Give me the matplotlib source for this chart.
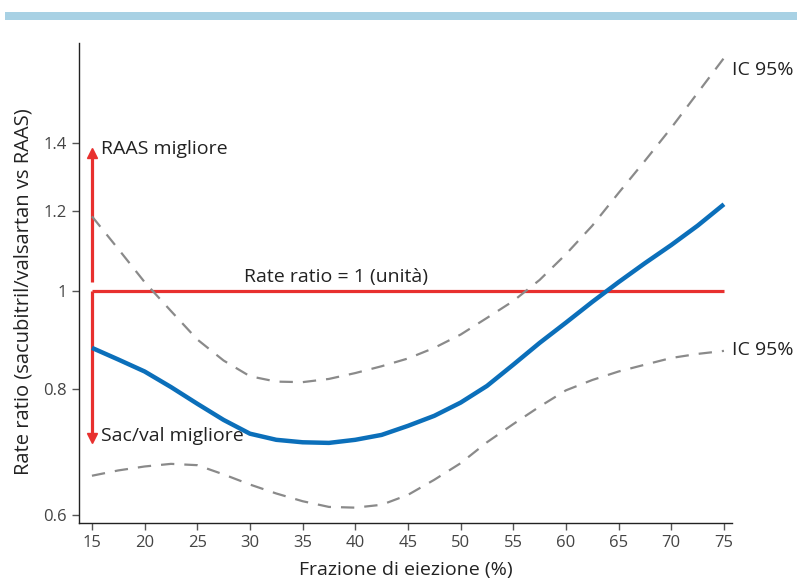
import matplotlib
matplotlib.use("Agg")
import matplotlib.pyplot as plt
from matplotlib.patches import Rectangle
import numpy as np

plt.rcParams['font.family'] = ['Open Sans', 'DejaVu Sans']

# frazione di eiezione (%)
ef = [15, 17.5, 20, 22.5, 25, 27.5, 30, 32.5, 35, 37.5, 40, 42.5, 45,
      47.5, 50, 52.5, 55, 57.5, 60, 62.5, 65, 67.5, 70, 72.5, 75]
# rate ratio stimato
rr = [0.878, 0.855, 0.832, 0.803, 0.773, 0.745, 0.722, 0.712, 0.708, 0.707,
      0.712, 0.720, 0.735, 0.752, 0.775, 0.805, 0.845, 0.888, 0.930, 0.975,
      1.02, 1.065, 1.11, 1.16, 1.218]
# IC 95% superiore / inferiore
ic_hi = [1.185, 1.10, 1.02, 0.955, 0.895, 0.853, 0.823, 0.813, 0.812, 0.818,
         0.829, 0.842, 0.857, 0.878, 0.905, 0.94, 0.977, 1.025, 1.087, 1.16,
         1.25, 1.345, 1.45, 1.57, 1.70]
ic_lo = [0.656, 0.664, 0.670, 0.674, 0.672, 0.658, 0.643, 0.630, 0.619, 0.611,
         0.610, 0.614, 0.628, 0.650, 0.675, 0.708, 0.738, 0.768, 0.797, 0.816,
         0.832, 0.845, 0.858, 0.866, 0.872]

xticks = [15, 20, 25, 30, 35, 40, 45, 50, 55, 60, 65, 70, 75]
yticks = [0.6, 0.8, 1, 1.2, 1.4]
ytick_labels = ["0.6", "0.8", "1", "1.2", "1.4"]

blue = "#0b6fba"
red = "#e8302e"
grey = "#8a8a8a"
txt = "#222222"

fig = plt.figure(figsize=(7.97, 5.83), dpi=100)
ax = fig.add_axes([0.0991, 0.1029, 0.8193, 0.8233])

# banda azzurra in alto
fig.patches.append(Rectangle((5/797, 1-20/583), 1, 8/583, transform=fig.transFigure,
                             color="#a8d1e4", lw=0, zorder=0))

ax.set_yscale("log")
ax.set_xlim(13.77, 75.76)
ax.set_ylim(0.589, 1.759)

# linea di unità e frecce
ax.plot([15, 75], [1, 1], color=red, lw=2.3, solid_capstyle="butt", zorder=2)
ax.plot([15, 15], [0.722, 1.0], color=red, lw=2.3, solid_capstyle="butt", zorder=2)
ax.plot([15, 15], [1.02, 1.36], color=red, lw=2.3, solid_capstyle="butt", zorder=2)
ax.plot(15, 1.37, marker="^", color=red, markersize=7, zorder=3)
ax.plot(15, 0.715, marker="v", color=red, markersize=7, zorder=3)

ax.plot(ef, ic_hi, color=grey, lw=1.6, dashes=(6, 4.5), zorder=2)
ax.plot(ef, ic_lo, color=grey, lw=1.6, dashes=(6, 4.5), zorder=2)
ax.plot(ef, rr, color=blue, lw=3.2, solid_capstyle="butt", zorder=4)

ax.text(15.9, 1.383, "RAAS migliore", fontsize=14, color=txt, va="center", ha="left")
ax.text(15.9, 0.718, "Sac/val migliore", fontsize=14, color=txt, va="center", ha="left")
ax.text(38.2, 1.012, "Rate ratio = 1 (unità)", fontsize=14, color=txt, va="bottom", ha="center")
ax.text(75.8, 1.655, "IC 95%", fontsize=14, color=txt, va="center", ha="left")
ax.text(75.8, 0.874, "IC 95%", fontsize=14, color=txt, va="center", ha="left")

ax.spines["top"].set_visible(False)
ax.spines["right"].set_visible(False)
for s in ["left", "bottom"]:
    ax.spines[s].set_color("#222222")
    ax.spines[s].set_linewidth(1.0)

ax.set_xticks(xticks)
ax.set_yticks(yticks)
ax.set_yticklabels(ytick_labels)
ax.yaxis.set_minor_locator(matplotlib.ticker.NullLocator())
ax.tick_params(axis="both", length=5, width=1, color="#555555", labelcolor="#444444",
               labelsize=12)

ax.set_xlabel("Frazione di eiezione (%)", fontsize=14, color=txt, labelpad=7)
ax.set_ylabel("Rate ratio (sacubitril/valsartan vs RAAS)", fontsize=14.5, color=txt)
ax.yaxis.set_label_coords(-0.069, 0.482)

fig.savefig("out.png", dpi=100)
